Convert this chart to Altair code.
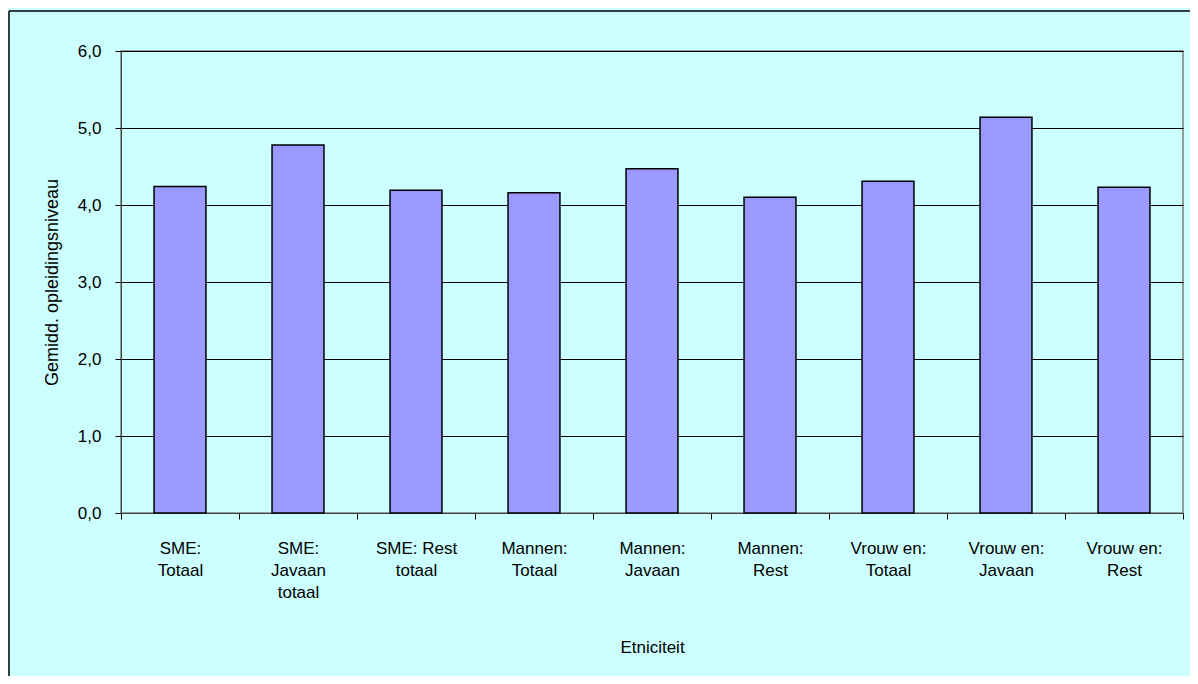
import altair as alt
import pandas as pd

label_lines = [
    ["SME:", "Totaal"],
    ["SME:", "Javaan", "totaal"],
    ["SME: Rest", "totaal"],
    ["Mannen:", "Totaal"],
    ["Mannen:", "Javaan"],
    ["Mannen:", "Rest"],
    ["Vrouw en:", "Totaal"],
    ["Vrouw en:", "Javaan"],
    ["Vrouw en:", "Rest"],
]
values = [4.24, 4.78, 4.19, 4.16, 4.47, 4.10, 4.31, 5.14, 4.23]
y_ticks = [0, 1, 2, 3, 4, 5, 6]

categories = ["\n".join(l) for l in label_lines]
df = pd.DataFrame({"cat": categories, "val": values})

FONT = "Liberation Sans"

bars = alt.Chart(df).mark_bar(
    color="#9999FF", stroke="black", strokeWidth=1.5,
    width=alt.RelativeBandSize(0.44),
).encode(
    x=alt.X(
        "cat:N",
        sort=categories,
        scale=alt.Scale(paddingInner=0, paddingOuter=0),
        axis=alt.Axis(
            title="Etniciteit",
            labelExpr="datum.value ? split(datum.value, '\\n') : ''",
            labelAngle=0,
            labelFont=FONT,
            labelFontSize=17,
            labelLineHeight=22,
            labelPadding=21,
            labelColor="black",
            labelBaseline="top",
            tickBand="extent",
            tickSize=6,
            tickColor="black",
            domainColor="#404040",
            titleFont=FONT,
            titleFontSize=17,
            titleFontWeight="normal",
            titleColor="black",
            titlePadding=39,
            grid=False,
        ),
    ),
    y=alt.Y(
        "val:Q",
        scale=alt.Scale(domain=[0, 6], nice=False),
        axis=alt.Axis(
            title="Gemidd. opleidingsniveau",
            values=y_ticks,
            labelExpr="replace(format(datum.value, '.1f'), '.', ',')",
            labelFont=FONT,
            labelFontSize=17,
            labelColor="black",
            labelPadding=14,
            tickSize=6,
            tickColor="black",
            domainColor="#404040",
            gridColor="black",
            gridWidth=1,
            titleFont=FONT,
            titleFontSize=18,
            titleFontWeight="normal",
            titleColor="black",
            titlePadding=16,
        ),
    ),
)

frame_data = alt.Data(values=[{"k": 1}])
left_border = alt.Chart(frame_data).mark_rule(color="black", strokeWidth=1.5).encode(
    x=alt.value(-112), y=alt.value(-40), y2=alt.value(700)
)
top_border = alt.Chart(frame_data).mark_rule(color="black", strokeWidth=1.5).encode(
    x=alt.value(-112), x2=alt.value(1100), y=alt.value(-40)
)

chart = alt.layer(bars, left_border, top_border).properties(
    width=1062,
    height=462,
    autosize=alt.AutoSizeParams(type="none"),
    padding={"left": 113, "top": 43, "right": 7, "bottom": 163},
    background="#CCFFFF",
).configure_view(stroke="#808080", strokeWidth=1.5)

chart.save("out.html", embed_options={"renderer": "svg", "actions": False})
